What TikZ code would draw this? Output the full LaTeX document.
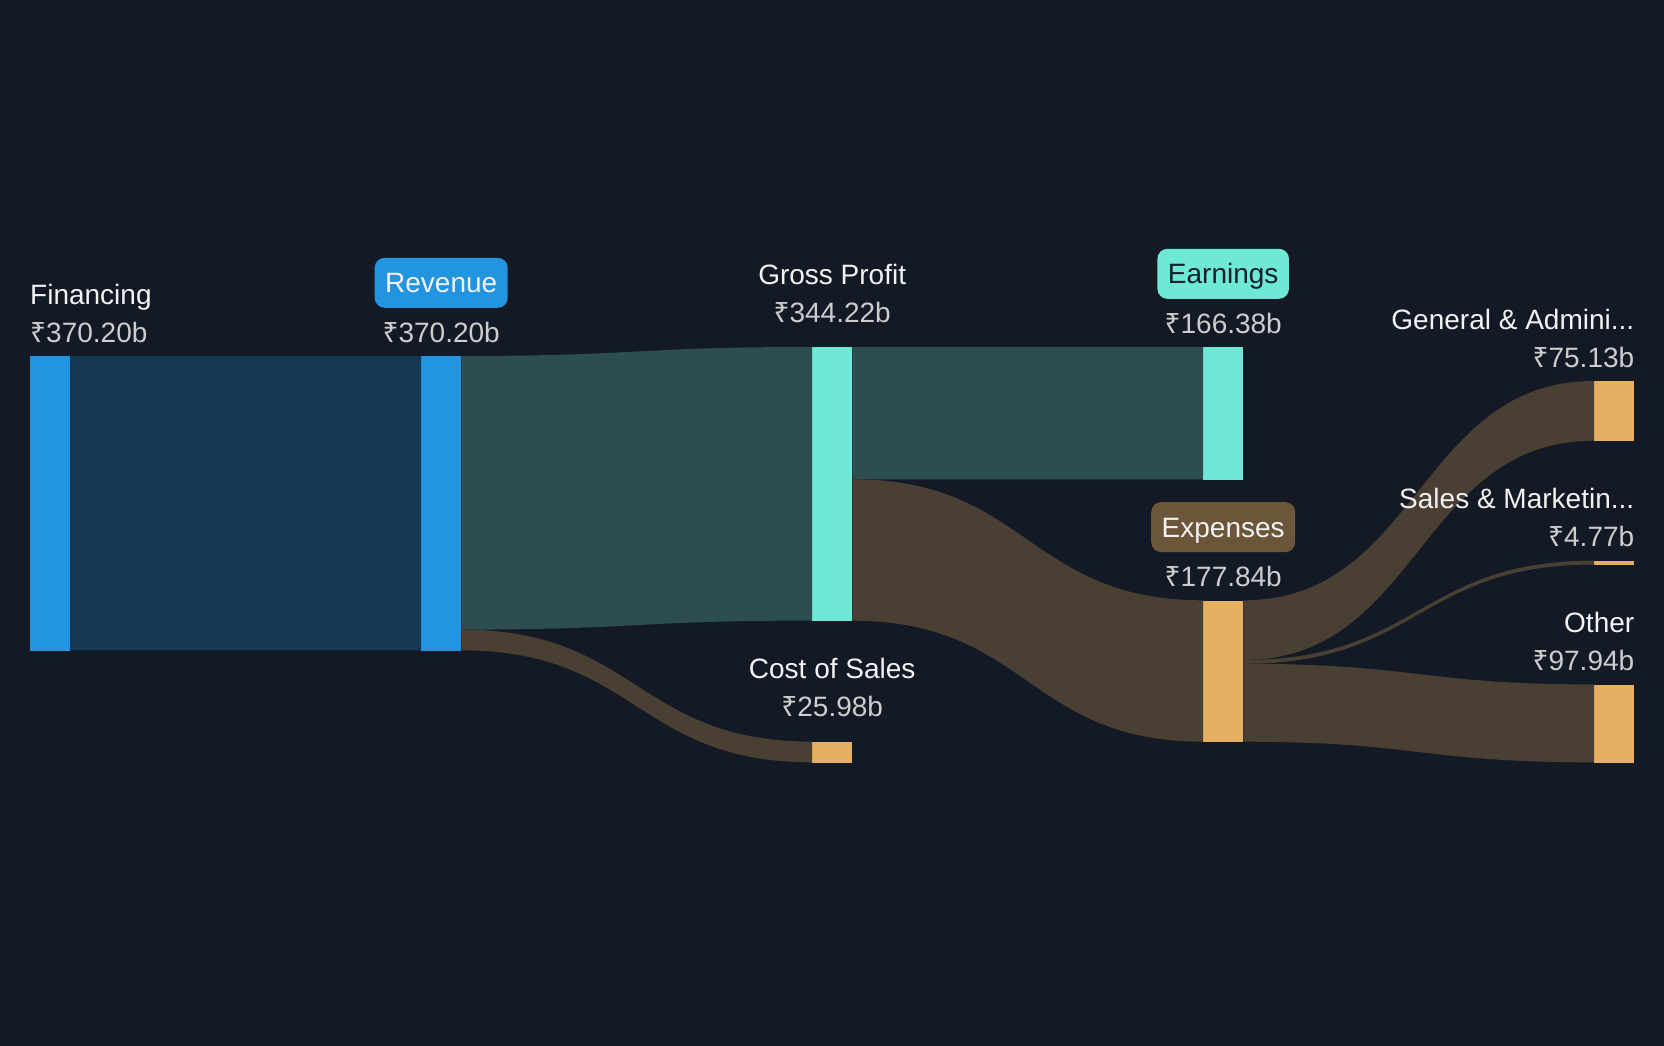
\documentclass[tikz,border=0pt]{standalone}
\usepackage{fontspec}
\setmainfont{Liberation Sans}
\newfontfamily\rupeefont{Noto Sans}
\newcommand\INR{{\rupeefont ₹}}
\usetikzlibrary{calc}
\definecolor{bg}{HTML}{141A25}
\definecolor{bluebar}{HTML}{2394E0}
\definecolor{blueflow}{HTML}{173851}
\definecolor{tealflow}{HTML}{2C4E51}
\definecolor{aquabar}{HTML}{6EE9D5}
\definecolor{orangebar}{HTML}{E5B062}
\definecolor{brownflow}{HTML}{4A3F33}
\definecolor{brownbox}{HTML}{6B5639}
\definecolor{namecol}{HTML}{F2F2F2}
\definecolor{valcol}{HTML}{CDCDCD}
\definecolor{darktext}{HTML}{14202A}
\tikzset{
  bar/.style={rectangle, inner sep=0pt, minimum width=40pt, anchor=north west, draw=none},
  lname/.style={text=namecol, font=\fontsize{28}{34}\selectfont, inner sep=0pt},
  lval/.style={text=valcol, font=\fontsize{28}{34}\selectfont, inner sep=0pt},
  tagbox/.style={rounded corners=10pt, minimum height=50pt, inner xsep=10.5pt, inner ysep=0pt,
    text height=20pt, text depth=0pt, font=\fontsize{28}{34}\selectfont, anchor=south},
}
% #1 source node, #2 offset from its top, #3 target node, #4 offset from its top, #5 thickness, #6 colour
\newcommand\sflow[6]{%
  \path ([yshift=-#2pt]#1.north east) coordinate (fa) ([yshift=-#4pt]#3.north west) coordinate (fb);
  \fill[#6] let \p1=(fa), \p2=(fb), \n1={(\x1+\x2)/2} in
    (\p1) .. controls (\n1,\y1) and (\n1,\y2) .. (\p2)
    -- ({\x2},{\y2-#5pt}) .. controls (\n1,{\y2-#5pt}) and (\n1,{\y1-#5pt}) .. ({\x1},{\y1-#5pt}) -- cycle;
}
\begin{document}
\begin{tikzpicture}[x=1pt,y=-1pt]
\fill[bg] (0,0) rectangle (1664,1046);
\useasboundingbox (0,0) rectangle (1664,1046);

% bars
\node[bar, fill=bluebar, minimum height=294.3pt] (fin) at (30,356) {};
\node[bar, fill=bluebar, minimum height=294.3pt] (rev) at (421,356) {};
\node[bar, fill=aquabar, minimum height=273.6pt] (gp) at (812,347) {};
\node[bar, fill=orangebar, minimum height=20.7pt] (cos) at (812,741.6) {};
\node[bar, fill=aquabar, minimum height=132.3pt] (earn) at (1203,347) {};
\node[bar, fill=orangebar, minimum height=141.4pt] (exp) at (1203,600.3) {};
\node[bar, fill=orangebar, minimum height=59.7pt] (ga) at (1594,381) {};
\node[bar, fill=orangebar, minimum height=3.8pt] (sm) at (1594,560.7) {};
\node[bar, fill=orangebar, minimum height=77.9pt] (oth) at (1594,684.4) {};

% flows
\sflow{fin}{0}{rev}{0}{294.3}{blueflow}
\sflow{rev}{0}{gp}{0}{273.6}{tealflow}
\sflow{rev}{273.6}{cos}{0}{20.7}{brownflow}
\sflow{gp}{0}{earn}{0}{132.3}{tealflow}
\sflow{gp}{132.3}{exp}{0}{141.4}{brownflow}
\sflow{exp}{0}{ga}{0}{59.7}{brownflow}
\sflow{exp}{59.7}{sm}{0}{3.8}{brownflow}
\sflow{exp}{63.5}{oth}{0}{77.9}{brownflow}

% labels
\node[lval, anchor=base west] (finv) at ([yshift=14pt]fin.north west) {\INR370.20b};
\node[lname, anchor=base west] (finn) at ([yshift=38pt]finv.base west) {Financing};

\node[lval, anchor=base] (revv) at ([yshift=14pt]rev.north) {\INR370.20b};
\node[tagbox, fill=bluebar, text=namecol] (revn) at ([yshift=34pt]revv.base) {Revenue};

\node[lval, anchor=base] (gpv) at ([yshift=25pt]gp.north) {\INR344.22b};
\node[lname, anchor=base] (gpn) at ([yshift=38pt]gpv.base) {Gross Profit};

\node[lval, anchor=base] (cosv) at ([yshift=25.6pt]cos.north) {\INR25.98b};
\node[lname, anchor=base] (cosn) at ([yshift=38pt]cosv.base) {Cost of Sales};

\node[lval, anchor=base] (earnv) at ([yshift=14pt]earn.north) {\INR166.38b};
\node[tagbox, fill=aquabar, text=darktext] (earnn) at ([yshift=34pt]earnv.base) {Earnings};

\node[lval, anchor=base] (expv) at ([yshift=14pt]exp.north) {\INR177.84b};
\node[tagbox, fill=brownbox, text=namecol] (expn) at ([yshift=34pt]expv.base) {Expenses};

\node[lval, anchor=base east] (gav) at ([yshift=14pt]ga.north east) {\INR75.13b};
\node[lname, anchor=base east] (gan) at ([yshift=38pt]gav.base east) {General \& Admini...};

\node[lval, anchor=base east] (smv) at ([yshift=14pt]sm.north east) {\INR4.77b};
\node[lname, anchor=base east] (smn) at ([yshift=38pt]smv.base east) {Sales \& Marketin...};

\node[lval, anchor=base east] (othv) at ([yshift=14pt]oth.north east) {\INR97.94b};
\node[lname, anchor=base east] (othn) at ([yshift=38pt]othv.base east) {Other};
\end{tikzpicture}
\end{document}
